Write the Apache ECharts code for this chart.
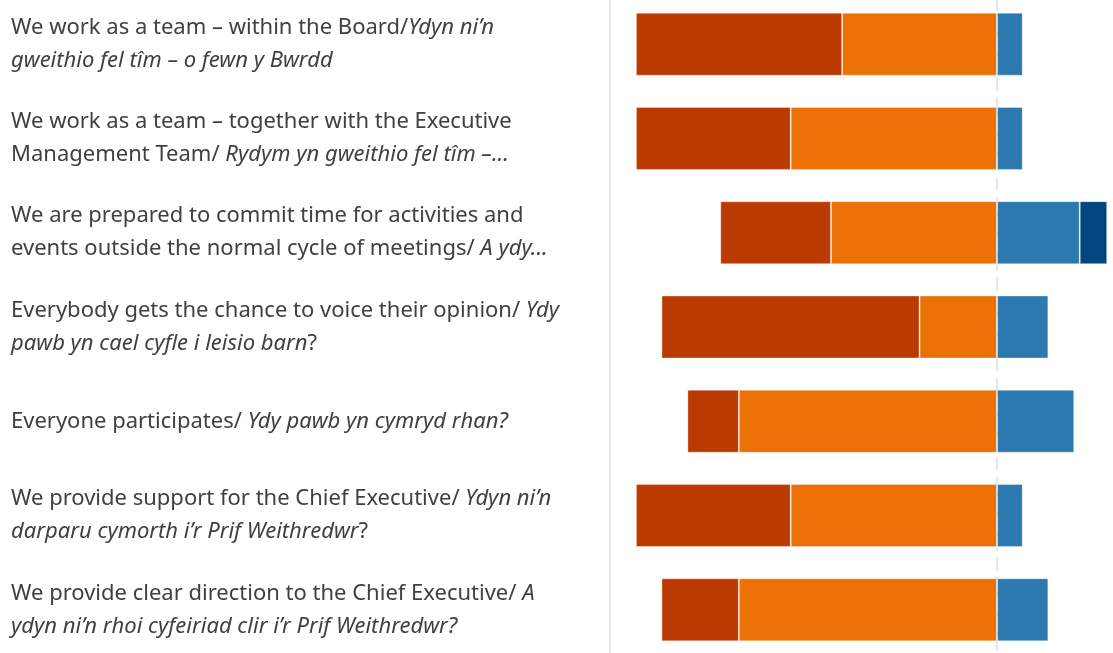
<!DOCTYPE html>
<html>
<head>
<meta charset="utf-8">
<style>
  html, body { margin: 0; padding: 0; background: #fff; overflow: hidden; }
  #chart { width: 1113px; height: 660px; margin-top: -3.5px; }
</style>
<script src="https://cdn.jsdelivr.net/npm/echarts@6/dist/echarts.min.js"></script>
</head>
<body>
<div id="chart"></div>
<script>
// questions, top to bottom; {i|...} is the Welsh part in italics
const categories = [
  'We work as a team – within the Board/{i|Ydyn ni’n}\n{i|gweithio fel tîm – o fewn y Bwrdd}',
  'We work as a team – together with the Executive\nManagement Team/ {i|Rydym yn gweithio fel tîm –...}',
  'We are prepared to commit time for activities and\nevents outside the normal cycle of meetings/ {i|A ydy...}',
  'Everybody gets the chance to voice their opinion/ {i|Ydy}\n{i|pawb yn cael cyfle i leisio barn}?',
  'Everyone participates/ {i|Ydy pawb yn cymryd rhan?}',
  'We provide support for the Chief Executive/ {i|Ydyn ni’n}\n{i|darparu cymorth i’r Prif Weithredwr}?',
  'We provide clear direction to the Chief Executive/ {i|A}\n{i|ydyn ni’n rhoi cyfeiriad clir i’r Prif Weithredwr?}'
];

// share of answers, % (disagree side drawn to the left of zero)
const stronglyDisagree = [53.3, 40.0, 28.6, 66.7, 13.3, 40.0, 20.0];
const disagree         = [40.0, 53.3, 42.9, 20.0, 66.7, 53.3, 66.7];
const agree            = [6.7, 6.7, 21.4, 13.3, 20.0, 6.7, 13.3];
const stronglyAgree    = [0, 0, 7.1, 0, 0, 0, 0];

const chart = echarts.init(document.getElementById('chart'));

const barStyle = (color) => ({
  color: color,
  borderColor: 'rgba(255,255,255,0.35)',
  borderWidth: 1
});

const option = {
  animation: false,
  grid: { left: 610, right: 0, top: 0, bottom: 0 },
  xAxis: {
    type: 'value',
    min: -100,
    max: 30,
    show: false
  },
  yAxis: {
    type: 'category',
    inverse: true,
    data: categories,
    axisTick: { show: false },
    axisLine: {
      show: true,
      onZero: false,
      lineStyle: { color: '#e8e8e8', width: 2 }
    },
    axisLabel: {
      align: 'left',
      margin: 599,
      color: '#404040',
      fontFamily: 'Noto Sans',
      fontSize: 22,
      lineHeight: 33,
      rich: {
        i: {
          fontStyle: 'italic',
          color: '#404040',
          fontFamily: 'Noto Sans',
          fontSize: 22,
          lineHeight: 33
        }
      }
    }
  },
  series: [
    {
      name: 'Disagree',
      type: 'bar',
      stack: 'total',
      barWidth: 63,
      data: disagree.map(v => -v),
      itemStyle: barStyle('#eb7107'),
      markLine: {
        silent: true,
        symbol: 'none',
        label: { show: false },
        lineStyle: { color: '#dedede', type: [14, 6], width: 1.5 },
        data: [{ xAxis: 0 }]
      }
    },
    {
      name: 'Strongly disagree',
      type: 'bar',
      stack: 'total',
      barWidth: 63,
      data: stronglyDisagree.map(v => -v),
      itemStyle: barStyle('#ba3a00')
    },
    {
      name: 'Agree',
      type: 'bar',
      stack: 'total',
      barWidth: 63,
      data: agree,
      itemStyle: barStyle('#2b79af')
    },
    {
      name: 'Strongly agree',
      type: 'bar',
      stack: 'total',
      barWidth: 63,
      data: stronglyAgree,
      itemStyle: barStyle('#01467e')
    }
  ]
};

chart.setOption(option);
</script>
</body>
</html>
